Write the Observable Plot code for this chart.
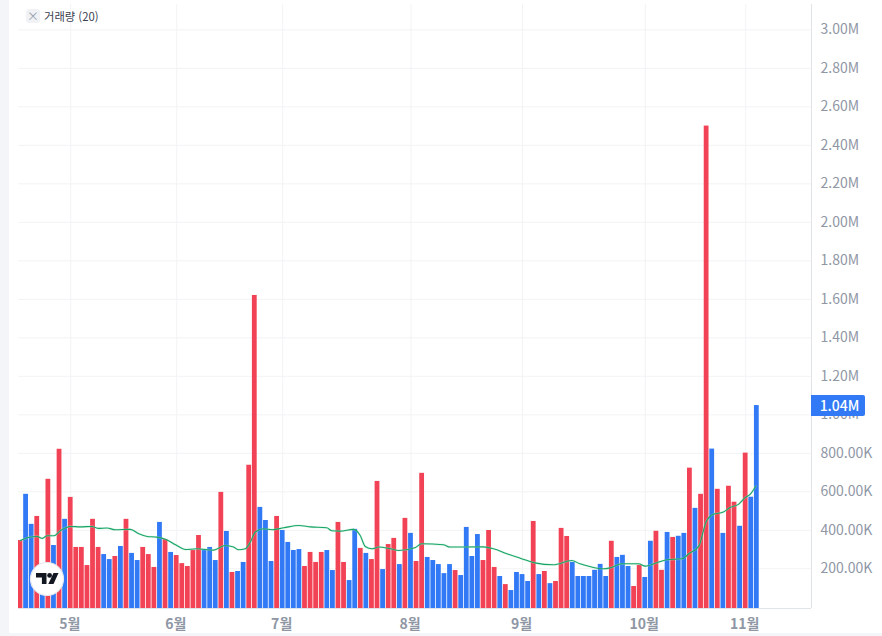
<!DOCTYPE html>
<html lang="ko"><head><meta charset="utf-8">
<script src="https://cdn.jsdelivr.net/npm/d3@7"></script>
<script src="https://cdn.jsdelivr.net/npm/@observablehq/plot@0.6"></script>
<style>
html,body{margin:0;padding:0;width:882px;height:636px;overflow:hidden;background:#f3f5f9;font-family:"Noto Sans CJK KR","Noto Sans",sans-serif}
#paper{position:absolute;left:9px;top:0;width:873px;height:633px;background:#fff}
#chart{position:absolute;left:0;top:0}
#chart svg{background:transparent;display:block}
#legend{position:absolute;left:44px;top:9px;font-size:11.3px;line-height:15px;color:#3a4150}
#close{position:absolute;left:26px;top:9px;width:14px;height:14px;border-radius:3px;background:#f0f2f6;color:#9aa1ad;font-size:12px;line-height:14px;text-align:center}
#badge{position:absolute;left:811px;width:51px;padding-left:3px;height:21px;line-height:21px;background:#3179f5;color:#fff;font-size:14px;font-weight:500;text-align:center;border-radius:0 2px 2px 0}
#logo{position:absolute;left:29px;top:561px}
</style></head><body>
<div id="paper"></div><div id="chart"></div>
<div id="close">×</div><div id="legend">거래량 (20)</div>
<div id="badge"></div>
<svg id="logo" width="36" height="36" viewBox="0 0 36 36"><circle cx="18" cy="18" r="16.5" fill="#fff" stroke="#e6e8ee" stroke-width="1.2"/><path d="M7 12h10.5v11h-4.6v-6.6H7z" fill="#131722"/><circle cx="20.6" cy="14.4" r="2.4" fill="#131722"/><path d="M24.5 12h5l-5 11h-5.2z" fill="#131722"/></svg>
<script>
const volumes = [347,587,431,472,160,665,321,821,457,571,311,311,217,457,311,274,248,264,316,457,280,243,311,274,207,441,352,285,269,227,212,295,373,300,311,243,597,394,181,186,233,738,1620,519,451,238,472,399,337,295,300,212,285,233,285,295,191,441,233,139,405,306,280,248,654,196,326,358,222,462,384,238,696,259,243,222,175,222,191,165,415,264,378,243,399,207,160,118,87,181,170,134,446,170,186,123,134,410,368,233,160,160,160,192,223,160,343,259,270,212,108,218,155,343,395,192,389,363,369,384,723,514,587,2500,822,613,384,629,546,421,801,572,1048];
const barSide = ["RBBRBRBRBR","RRRRRBBRBR","BBRRRBRBRR","RRRBBBRBRB","BRRBBBRBBB","BRRRRBBRRB","BRBRRBRRBR","BRRBBBBBRB","BBBRRRBRBB","BBRBRBRRRB","BBBBBBRBBB","RRBBRRBRBB","RBRRBRBRRB","RBB"].join("");
const barColors = {R:"#f24255",B:"#3179f5"};
const maIndex = [1,2.2,4,4.9,5.8,7,8.2,10,11.7,13.8,15,16.5,18,20.7,22.2,23.7,25.2,27,28.8,30.6,32.6,35.6,37.7,39.2,40.1,41.3,42.2,43.1,44.6,46.1,48.2,50.9,53,55.9,56.8,58.3,60.7,61.9,62.8,64,65.2,67.3,68.8,71.7,72.9,76.8,78,84,85.8,88.2,90.6,93.2,96.5,99.8,101.3,103.4,105.5,106.7,108.8,111.8,113,115.4,116.9,119.6,120.8,122.6,123.9,125.2,127,128.2,129.7,130.9,131.8,132.8];
const maValues = [347,361,368,358,372,372,399,420,418,420,410,412,403,405,382,368,365,354,325,300,304,297,321,313,299,304,339,391,408,403,413,425,418,413,398,396,405,373,316,304,313,304,295,309,330,325,313,314,304,278,255,231,221,243,226,209,200,205,226,226,214,235,247,252,278,318,443,483,495,518,535,570,587,629];
const yTicks = [200,400,600,800,1000,1200,1400,1600,1800,2000,2200,2400,2600,2800,3000];
const yLabels = ["200.00K","400.00K","600.00K","800.00K","1.00M","1.20M","1.40M","1.60M","1.80M","2.00M","2.20M","2.40M","2.60M","2.80M","3.00M"];
const xTicks = [10,29,48,71,91,113,131];
const xLabels = ["5월","6월","7월","8월","9월","10월","11월"];
const lastVolumeLabel = "1.04M";

const bars = volumes.map((v,i)=>({i:i+1,v,side:barSide[i]}));
const ma = maIndex.map((i,k)=>({i,v:maValues[k]}));
const yMin=-6.2, yMax=3131.6, xMax=142.8, gridColor="#f2f3f5", axisColor="#e0e3e8", labelColor="#8f97a5";
const plot = Plot.plot({
  width:882,height:636,marginLeft:18,marginRight:71,marginTop:4,marginBottom:28,
  x:{type:"linear",domain:[0.6415,xMax]},
  y:{domain:[yMin,yMax]},
  marks:[
    Plot.ruleX(xTicks,{stroke:gridColor,strokeWidth:1}),
    Plot.ruleY(yTicks,{stroke:gridColor,strokeWidth:1}),
    Plot.rectY(bars,{x1:d=>d.i-0.43,x2:d=>d.i+0.43,y1:yMin,y2:"v",fill:d=>barColors[d.side],clip:true}),
    Plot.line(ma,{x:"i",y:"v",stroke:"#a8e0c4",strokeWidth:2.2,strokeOpacity:.4,curve:"monotone-x"}),
    Plot.line(ma,{x:"i",y:"v",stroke:"#17a566",strokeWidth:1.1,curve:"monotone-x"}),
    Plot.ruleY([yMin],{stroke:axisColor,strokeWidth:1}),
    Plot.ruleX([xMax],{stroke:axisColor,strokeWidth:1}),
    Plot.axisY(yTicks,{anchor:"right",tickSize:0,tickPadding:9,label:null,textAnchor:"start",tickFormat:(d,i)=>yLabels[i],fontSize:14,fill:labelColor,fontFamily:'"Noto Sans CJK KR"'}),
    Plot.axisX(xTicks,{anchor:"bottom",tickSize:0,tickPadding:11,dx:-1,label:null,tickFormat:(d,i)=>xLabels[i],fontSize:14,fontWeight:700,fill:labelColor,fontFamily:'"Noto Sans CJK KR"'})
  ]
});
document.getElementById("chart").append(plot);
const badge=document.getElementById("badge");
badge.textContent=lastVolumeLabel;
badge.style.top=(plot.scale("y").apply(volumes[volumes.length-1])-10.5)+"px";
</script></body></html>
